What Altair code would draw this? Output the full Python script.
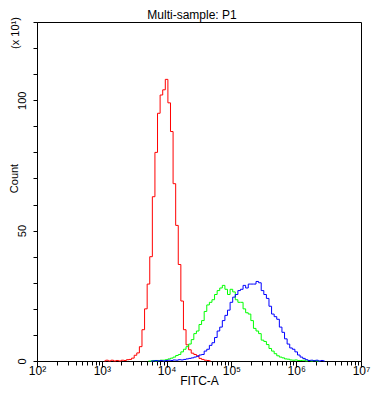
import math
import altair as alt
import pandas as pd

# Histogram bin centres (log10 of FITC-A)
LOG_BINS = [
    3.04, 3.08, 3.12, 3.16, 3.20, 3.24, 3.28, 3.32, 3.36, 3.40,
    3.44, 3.48, 3.52, 3.56, 3.60, 3.64, 3.68, 3.72, 3.76, 3.80,
    3.84, 3.88, 3.92, 3.96, 4.00, 4.04, 4.08, 4.12, 4.16, 4.20,
    4.24, 4.28, 4.32, 4.36, 4.40, 4.44, 4.48, 4.52, 4.56, 4.60,
    4.64, 4.68, 4.72, 4.76, 4.80, 4.84, 4.88, 4.92, 4.96, 5.00,
    5.04, 5.08, 5.12, 5.16, 5.20, 5.24, 5.28, 5.32, 5.36, 5.40,
    5.44, 5.48, 5.52, 5.56, 5.60, 5.64, 5.68, 5.72, 5.76, 5.80,
    5.84, 5.88, 5.92, 5.96, 6.00, 6.04, 6.08, 6.12, 6.16, 6.20,
    6.24, 6.28, 6.32, 6.36, 6.40, 6.44,
]

# Counts (x 10^1); each series starts at the given bin index
RED_START = 0
RED = [
    0, 0.3, 0, 0.3, 0, 0.2, 0, 0.3, 0.2, 0.5,
    0.6, 1.1, 2.2, 3.1, 5.5, 12, 20, 29.5, 40, 63,
    80, 95, 102, 104, 108, 99, 88, 68, 52, 37,
    23, 12, 6.2, 4.3, 3, 2.5, 2, 1, 0.6, 0.3,
    0.2, 0,
]

GREEN_START = 17
GREEN = [
    0, 0, 0.2, 0, 0.2, 0.3, 0.3, 0.5, 0.8, 1.1,
    1.5, 2.1, 2.5, 3.5, 4.5, 5.5, 6.5, 8.2, 10.5, 11.5,
    14, 15.5, 19, 21.5, 22.5, 23.5, 25.5, 27, 28, 29,
    27.5, 25.5, 27.5, 26.5, 23.5, 22.5, 22.5, 20, 18.5, 18,
    15.5, 12.5, 11.5, 10.5, 8, 7.5, 6.3, 4.8, 3.8, 2.8,
    2.0, 1.5, 1.2, 0.8, 0.7, 0.4, 0.3, 0.4, 0.2, 0.2,
    0.3, 0, 0.2, 0, 0.2, 0, 0,
]

BLUE_START = 18
BLUE = [
    0, 0, 0.2, 0, 0.2, 0, 0.2, 0.3, 0.2, 0.4,
    0.3, 0.5, 0.4, 0.6, 0.8, 1.0, 1.2, 1.5, 1.8, 2.3,
    2.5, 3.8, 4.5, 6, 7, 9, 11.5, 13, 15.5, 17.5,
    19.5, 22.5, 24.5, 25.5, 27, 27.5, 29, 28, 29.5, 29.5,
    29.5, 30.5, 30, 27, 25.5, 24, 21, 18, 17, 16,
    13, 11, 8.5, 6.5, 5, 4.5, 3.5, 2.3, 1.5, 1.0,
    0.5, 0.2, 0.3, 0.1, 0.3, 0, 0.2, 0,
]

X_DECADES = [2, 3, 4, 5, 6, 7]
Y_TICKS = [0, 10, 20, 30, 40, 50, 60, 70, 80, 90, 100, 110, 120, 130]

TITLE = "Multi-sample: P1"
UNIT = "(x 10¹)"

FONT = "Liberation Sans"

x_ticks = [d + math.log10(k) for d in X_DECADES[:-1] for k in range(1, 10)] + [X_DECADES[-1]]


def frame(vals, start):
    return pd.DataFrame({"logx": LOG_BINS[start:start + len(vals)], "count": vals})


x_enc = alt.X(
    "logx:Q",
    scale=alt.Scale(domain=[2, 7], nice=False, zero=False),
    axis=alt.Axis(
        values=x_ticks,
        labelExpr="abs(datum.value - round(datum.value)) < 0.000001 ? '10' + ['⁰','¹','²','³','⁴','⁵','⁶','⁷'][round(datum.value)] : ''",
        labelFlush=False,
        labelOverlap=False,
        tickSize={"condition": {"test": "abs(datum.value - round(datum.value)) < 0.000001", "value": 6}, "value": 4},
        tickColor="black",
        domainColor="black",
        labelFont=FONT,
        labelFontSize=12,
        labelColor="black",
        labelBaseline="alphabetic",
        labelPadding=7,
        title="FITC-A",
        titleFont=FONT,
        titleFontSize=12,
        titleFontWeight="normal",
        titleColor="black",
        titleBaseline="alphabetic",
        titleY=23,
        grid=False,
    ),
)

y_enc = alt.Y(
    "count:Q",
    scale=alt.Scale(domain=[0, 130], nice=False),
    axis=alt.Axis(
        values=Y_TICKS,
        labelExpr="datum.value % 50 === 0 ? datum.label : ''",
        labelAngle=270,
        labelAlign="center",
        labelBaseline="alphabetic",
        labelPadding=8,
        labelOverlap=False,
        labelFont=FONT,
        labelFontSize=11,
        labelColor="black",
        tickSize=4,
        tickColor="black",
        domainColor="black",
        title="Count",
        titleFont=FONT,
        titleFontSize=11,
        titleFontWeight="normal",
        titleColor="black",
        titleAngle=270,
        titleAlign="center",
        titleBaseline="alphabetic",
        titleX=-20,
        titleY=156,
        grid=False,
    ),
)


def series(vals, start, color):
    return alt.Chart(frame(vals, start)).mark_line(
        interpolate="step", color=color, strokeWidth=1
    ).encode(x=x_enc, y=y_enc)


unit_label = alt.Chart(pd.DataFrame({"t": [UNIT]})).mark_text(
    angle=270, align="center", baseline="alphabetic", font=FONT, fontSize=11, color="black"
).encode(x=alt.value(-18), y=alt.value(11), text="t:N")

title_label = alt.Chart(pd.DataFrame({"t": [TITLE]})).mark_text(
    align="center", baseline="alphabetic", font=FONT, fontSize=12, color="black"
).encode(x=alt.value(155), y=alt.value(-3), text="t:N")

chart = alt.layer(
    series(RED, RED_START, "#ff0000"),
    series(GREEN, GREEN_START, "#00ff00"),
    series(BLUE, BLUE_START, "#0000ff"),
    unit_label,
    title_label,
).properties(
    width=324,
    height=339,
    autosize=alt.AutoSizeParams(type="none"),
    padding={"left": 29, "top": 14, "right": 10, "bottom": 26},
).configure_view(
    stroke="black", strokeWidth=1
)

chart.save("out.html", embed_options={"renderer": "svg", "actions": False})
